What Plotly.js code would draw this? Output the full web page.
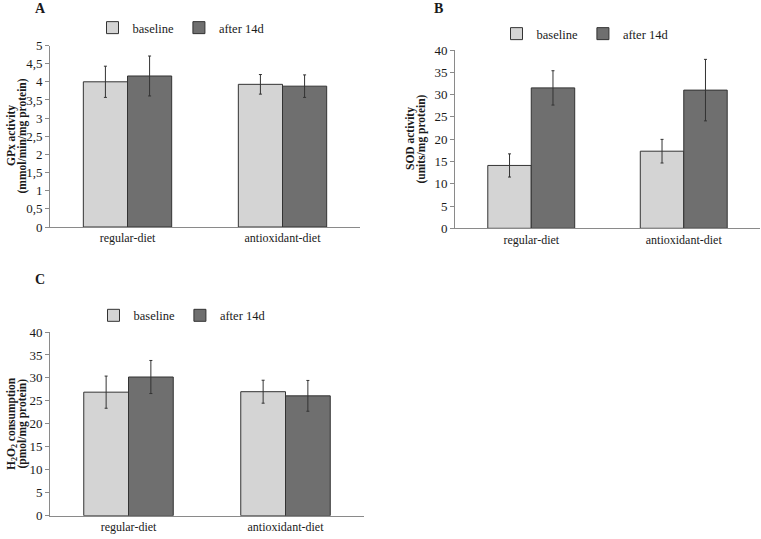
<!DOCTYPE html>
<html>
<head>
<meta charset="utf-8">
<script src="https://cdn.plot.ly/plotly-3.0.1.min.js"></script>
<style>
html,body{margin:0;padding:0;background:#fff;}
#chart{width:761px;height:539px;}
</style>
</head>
<body>
<div id="chart"></div>
<script>
// ---- data ----
const categories = ['regular-diet', 'antioxidant-diet'];
const seriesNames = ['baseline', 'after 14d'];

const gpxBaseline = [4.00, 3.93];
const gpxBaselineErr = [0.43, 0.27];
const gpxAfter = [4.16, 3.88];
const gpxAfterErr = [0.55, 0.31];

const sodBaseline = [14.1, 17.3];
const sodBaselineErr = [2.6, 2.65];
const sodAfter = [31.5, 31.0];
const sodAfterErr = [3.85, 6.9];

const h2o2Baseline = [26.9, 27.0];
const h2o2BaselineErr = [3.5, 2.5];
const h2o2After = [30.2, 26.1];
const h2o2AfterErr = [3.6, 3.35];

const gpxTicks = [0, 0.5, 1, 1.5, 2, 2.5, 3, 3.5, 4, 4.5, 5];
const sodTicks = [0, 5, 10, 15, 20, 25, 30, 35, 40];
const h2o2Ticks = [0, 5, 10, 15, 20, 25, 30, 35, 40];

const gpxTitle = ['GPx activity', '(mmol/min/mg protein)'];
const sodTitle = ['SOD activity', '(units/mg protein)'];
const h2o2Title = ['H<sub>2</sub>O<sub>2</sub> consumption', '(pmol/mg protein)'];
const panelLabels = ['A', 'B', 'C'];

// ---- styles ----
const FONT = 'Liberation Serif';
const TXT = '#1a1a1a';
const lightFill = '#d4d4d4';
const darkFill = '#6f6f6f';
const outline = '#333333';
const axisCol = '#8a8a8a';
const W = 761, H = 539;

function barTrace(name, y, err, fill, xa, ya, leg) {
  return {
    type: 'bar', name: name, x: categories, y: y,
    xaxis: xa, yaxis: ya, legend: leg,
    marker: {color: fill, line: {color: outline, width: 1}},
    error_y: {type: 'data', array: err, visible: true, color: '#333', thickness: 1, width: 1.5},
    hoverinfo: 'y'
  };
}

const data = [
  barTrace(seriesNames[0], gpxBaseline, gpxBaselineErr, lightFill, 'x', 'y', 'legend'),
  barTrace(seriesNames[1], gpxAfter, gpxAfterErr, darkFill, 'x', 'y', 'legend'),
  barTrace(seriesNames[0], sodBaseline, sodBaselineErr, lightFill, 'x2', 'y2', 'legend2'),
  barTrace(seriesNames[1], sodAfter, sodAfterErr, darkFill, 'x2', 'y2', 'legend2'),
  barTrace(seriesNames[0], h2o2Baseline, h2o2BaselineErr, lightFill, 'x3', 'y3', 'legend3'),
  barTrace(seriesNames[1], h2o2After, h2o2AfterErr, darkFill, 'x3', 'y3', 'legend3')
];

function xAxis(domain, anchor) {
  return {
    domain: domain, anchor: anchor, type: 'category', range: [-0.5, 1.5],
    showline: true, linecolor: axisCol, linewidth: 1, ticks: '', showgrid: false,
    zeroline: false, tickfont: {family: FONT, size: 12, color: TXT}, fixedrange: true
  };
}
function yAxis(domain, anchor, range, ticks) {
  return {
    domain: domain, anchor: anchor, range: range, tickmode: 'array', tickvals: ticks,
    showline: true, linecolor: axisCol, linewidth: 1, ticks: 'outside', ticklen: 4,
    tickcolor: axisCol, showgrid: false, zeroline: false,
    tickfont: {family: FONT, size: 13, color: TXT},
    fixedrange: true
  };
}
function legendCfg(x, y) {
  return {
    x: x, y: y, xanchor: 'center', yanchor: 'middle', orientation: 'h',
    font: {family: FONT, size: 12.5, color: TXT}, itemwidth: 30,
    bgcolor: 'rgba(0,0,0,0)', traceorder: 'normal', tracegroupgap: 0
  };
}
function note(text, px, py, size, angle) {
  return {
    text: text, x: px / W, y: 1 - py / H, xref: 'paper', yref: 'paper', showarrow: false,
    xanchor: 'center', yanchor: 'middle', textangle: angle || 0,
    font: {family: FONT, size: size, color: TXT}
  };
}
function yTitle(lines, px, py) {
  return [
    note('<b>' + lines[0] + '</b>', px - 5.5, py, 11.5, -90),
    note('<b>' + lines[1] + '</b>', px + 5, py, 11.5, -90)
  ];
}

const layout = {
  width: W, height: H,
  margin: {l: 0, r: 0, t: 0, b: 0},
  paper_bgcolor: '#fff', plot_bgcolor: '#fff',
  separators: ', ',
  barmode: 'group', bargap: 0.43, bargroupgap: 0,
  font: {family: FONT, color: TXT},
  xaxis: xAxis([50/W, 360/W], 'y'),
  yaxis: yAxis([1 - 227/H, 1 - 45.5/H], 'x', [0, 5], gpxTicks),
  xaxis2: xAxis([455/W, 760/W], 'y2'),
  yaxis2: yAxis([1 - 228.3/H, 1 - 50/H], 'x2', [0, 40], sodTicks),
  xaxis3: xAxis([50/W, 364/W], 'y3'),
  yaxis3: yAxis([1 - 515.7/H, 1 - 332/H], 'x3', [0, 40], h2o2Ticks),
  showlegend: true,
  legend: legendCfg(181/W, 1 - 28/H),
  legend2: legendCfg(585/W, 1 - 34/H),
  legend3: legendCfg(182/W, 1 - 315.7/H),
  annotations: [
    note('<b>' + panelLabels[0] + '</b>', 40, 8, 14),
    note('<b>' + panelLabels[1] + '</b>', 438, 8, 14),
    note('<b>' + panelLabels[2] + '</b>', 40, 279, 14)
  ].concat(yTitle(gpxTitle, 17.5, 136), yTitle(sodTitle, 416.5, 139), yTitle(h2o2Title, 17.5, 424))
};

Plotly.newPlot('chart', data, layout, {displayModeBar: false, staticPlot: true});
</script>
</body>
</html>
